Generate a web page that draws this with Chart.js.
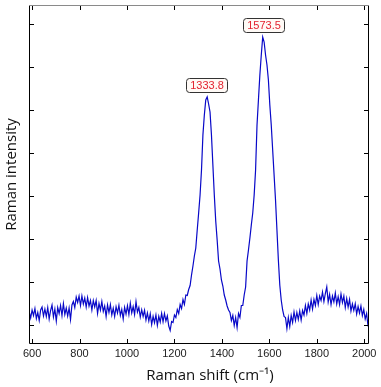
<!DOCTYPE html>
<html>
<head>
<meta charset="utf-8">
<script src="https://cdn.jsdelivr.net/npm/chart.js@4.4.1/dist/chart.umd.min.js"></script>
<style>
  html, body { margin: 0; padding: 0; background: #fff; }
  #grafico { display: block; }
</style>
</head>
<body>
<canvas id="grafico" width="381" height="387"></canvas>
<script>
// Raman shift (cm-1)
var ramanShift = [
  588,594,600,606,612,618,624,630,636,642,648,654,660,666,672,678,684,690,696,702,
  708,714,720,726,732,738,744,750,756,762,768,774,780,786,792,798,804,810,816,822,
  828,834,840,846,852,858,864,870,876,882,888,894,900,906,912,918,924,930,936,942,
  948,954,960,966,972,978,984,990,996,1002,1008,1014,1020,1026,1032,1038,1044,1050,1056,1062,
  1068,1074,1080,1086,1092,1098,1104,1110,1116,1122,1128,1134,1140,1146,1152,1158,1164,1170,1176,1182,
  1188,1194,1200,1206,1212,1218,1224,1230,1236,1242,1248,1254,1260,1266,1272,1278,1284,1290,1296,1302,
  1308,1314,1320,1326,1332,1338,1344,1350,1356,1362,1368,1374,1380,1386,1392,1398,1404,1410,1416,1422,
  1428,1434,1440,1446,1452,1458,1464,1470,1476,1482,1488,1494,1500,1506,1512,1518,1524,1530,1536,1542,
  1548,1554,1560,1566,1572,1578,1584,1590,1596,1602,1608,1614,1620,1626,1632,1638,1644,1650,1656,1662,
  1668,1674,1680,1686,1692,1698,1704,1710,1716,1722,1728,1734,1740,1746,1752,1758,1764,1770,1776,1782,
  1788,1794,1800,1806,1812,1818,1824,1830,1836,1842,1848,1854,1860,1866,1872,1878,1884,1890,1896,1902,
  1908,1914,1920,1926,1932,1938,1944,1950,1956,1962,1968,1974,1980,1986,1992,1998,2004,2010,2016
];

// Intensidade (unidades arbitrárias)
var intensity = [
  130,70,150,95,165,65,125,45,150,180,90,160,85,175,60,145,200,80,160,40,
  175,115,195,95,215,105,170,90,170,55,200,235,175,280,225,290,195,290,210,270,
  180,275,190,245,150,245,180,245,115,215,150,235,135,190,85,200,125,205,100,168,
  85,183,120,198,95,155,60,177,110,193,105,218,120,185,105,233,130,175,80,153,
  85,147,50,120,40,113,5,87,23,100,-3,87,30,117,33,115,40,90,-10,-55,
  35,25,100,75,155,115,205,165,255,205,300,295,355,395,500,590,690,770,950,1120,
  1300,1550,1900,2100,2250,2280,2210,2130,1900,1600,1300,1040,850,640,560,450,390,300,250,190,
  150,125,45,95,-5,75,-25,115,75,195,195,300,380,640,750,870,1000,1120,1300,1550,
  2000,2250,2500,2700,2880,2830,2700,2600,2450,2200,2000,1750,1500,1250,950,650,400,250,150,85,
  75,-35,75,-15,95,25,130,45,125,55,140,50,145,100,195,115,210,150,250,160,
  255,195,295,205,290,245,330,235,315,380,230,305,205,290,230,320,210,283,203,310,
  225,290,175,265,180,255,140,210,145,213,110,185,120,190,95,155,60,115,-15
];

var xTicks = [600, 800, 1000, 1200, 1400, 1600, 1800, 2000];
var yTicks = [0, 430, 860, 1290, 1720, 2150, 2580, 3010];

// Picos marcados
var peakShift = [1333.8, 1573.5];
var peakIntensity = [2280, 2880];
var peakLabels = ['1333.8', '1573.5'];

// Moldura com marcas para dentro (estilo MATLAB)
var moldura = {
    id: 'moldura',
    afterDraw: function(chart){
        var ctx = chart.ctx, a = chart.chartArea;
        var x = chart.scales.x, y = chart.scales.y;
        ctx.save();
        ctx.lineWidth = 1;
        ctx.strokeStyle = '#000';
        ctx.beginPath();
        x.ticks.forEach(function(t){
            var px = Math.round(x.getPixelForValue(t.value)) + 0.5;
            ctx.moveTo(px, a.bottom); ctx.lineTo(px, a.bottom - 5);
            ctx.moveTo(px, a.top); ctx.lineTo(px, a.top + 5);
        });
        y.ticks.forEach(function(t){
            var py = Math.round(y.getPixelForValue(t.value)) + 0.5;
            ctx.moveTo(a.left, py); ctx.lineTo(a.left + 5, py);
            ctx.moveTo(a.right, py); ctx.lineTo(a.right - 5, py);
        });
        ctx.stroke();

        var l = Math.round(a.left) + 0.5, r = Math.round(a.right) - 0.5;
        var t = Math.round(a.top) + 0.5, b = Math.round(a.bottom) - 0.5;
        ctx.beginPath();
        ctx.moveTo(l, t); ctx.lineTo(l, b); ctx.lineTo(r, b); ctx.lineTo(r, t);
        ctx.stroke();
        ctx.strokeStyle = '#8a8a8a';
        ctx.beginPath();
        ctx.moveTo(l, t); ctx.lineTo(r, t);
        ctx.stroke();

        // titulo do eixo x
        ctx.fillStyle = '#111';
        ctx.font = '15px "Open Sans"';
        ctx.textAlign = 'center';
        ctx.textBaseline = 'middle';
        ctx.fillText('Raman shift (cm\u207B\u00B9)', (a.left + a.right) / 2 + 11, 376);
        ctx.restore();
    }
};

// Caixinhas com o valor dos picos
var rotulos = {
    id: 'rotulos',
    afterDatasetsDraw: function(chart){
        var ctx = chart.ctx;
        var x = chart.scales.x, y = chart.scales.y;
        ctx.save();
        ctx.font = '11px "Liberation Sans", Arial';
        ctx.textAlign = 'center';
        ctx.textBaseline = 'middle';
        for (var i = 0; i < peakShift.length; i++) {
            var cx = x.getPixelForValue(peakShift[i]);
            var cy = y.getPixelForValue(peakIntensity[i]) - 12.5;
            var w = Math.round(ctx.measureText(peakLabels[i]).width) + 7;
            var h = 14;
            var bx = Math.round(cx - w / 2) + 0.5, by = Math.round(cy - h / 2) + 0.5;
            ctx.beginPath();
            ctx.roundRect(bx, by, w, h, 3);
            ctx.fillStyle = '#fffaf6';
            ctx.fill();
            ctx.lineWidth = 1;
            ctx.strokeStyle = '#333';
            ctx.stroke();
            ctx.fillStyle = '#e3232f';
            ctx.fillText(peakLabels[i], bx + w / 2, by + h / 2 + 0.5);
        }
        ctx.restore();
    }
};

var data = {
    datasets: [{
        data: ramanShift.map(function(v, i){ return {x: v, y: intensity[i]}; }),
        borderColor: 'rgb(8, 8, 200)',
        borderWidth: 1.2,
        pointRadius: 0,
        tension: 0,
        fill: false
    }]
};

var config = {
    type: 'line',
    data: data,
    options: {
        responsive: false,
        animation: false,
        devicePixelRatio: 1,
        layout: { padding: { left: 0, top: 5, right: 12, bottom: 0 } },
        plugins: {
            legend: { display: false },
            tooltip: { enabled: false }
        },
        scales: {
            x: {
                type: 'linear',
                min: 587,
                max: 2020,
                bounds: 'data',
                grid: { display: false, drawTicks: false },
                border: { display: false },
                ticks: {
                    autoSkip: false,
                    maxRotation: 0,
                    padding: 3,
                    color: '#222',
                    font: { family: '"Liberation Sans", Arial', size: 11 },
                    callback: function(v){ return String(v); }
                },
                afterBuildTicks: function(s){
                    s.ticks = xTicks.map(function(v){ return {value: v}; });
                },
                afterFit: function(s){ s.height = 43; }
            },
            y: {
                type: 'linear',
                min: -190,
                max: 3200,
                bounds: 'data',
                grid: { display: false, drawTicks: false },
                border: { display: false },
                ticks: { display: false },
                title: {
                    display: true,
                    text: 'Raman intensity',
                    color: '#111',
                    font: { family: '"Open Sans"', size: 15 },
                    padding: { top: 3, bottom: 0 }
                },
                afterBuildTicks: function(s){
                    s.ticks = yTicks.map(function(v){ return {value: v}; });
                },
                afterFit: function(s){ s.width = 29; }
            }
        }
    },
    plugins: [moldura, rotulos]
};

var grafico = new Chart(document.getElementById('grafico'), config);
</script>
</body>
</html>
